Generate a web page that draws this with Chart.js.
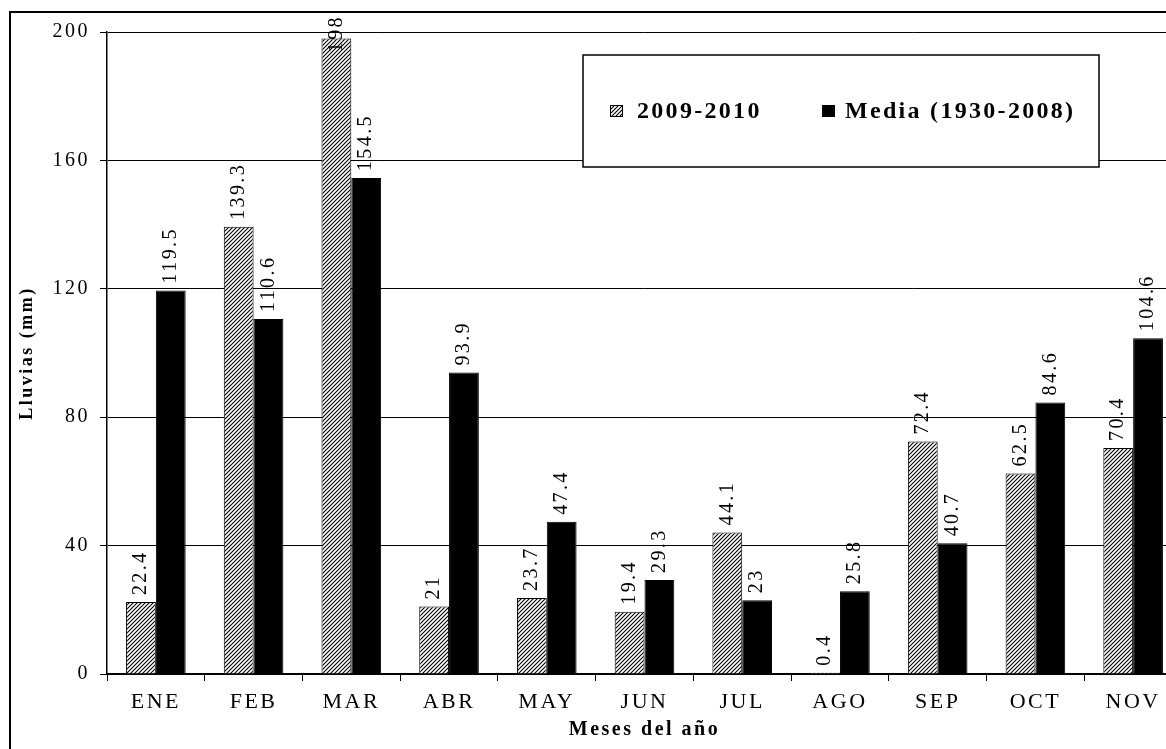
<!DOCTYPE html>
<html>
<head>
<meta charset="utf-8">
<script src="https://cdn.jsdelivr.net/npm/chart.js@4.4.0/dist/chart.umd.min.js"></script>
<style>
html, body { margin: 0; padding: 0; background: #fff; overflow: hidden; }
#marco { position: absolute; left: 9px; top: 11px; width: 1300px; height: 900px; border: 2px solid #000; box-sizing: border-box; }
#caja { position: absolute; left: 0; top: 0; width: 1200px; height: 749px; }
</style>
</head>
<body>
<div id="marco"></div>
<div id="caja"><canvas id="lluviasChart" width="1200" height="749"></canvas></div>
<script>
const meses = ['ENE', 'FEB', 'MAR', 'ABR', 'MAY', 'JUN', 'JUL', 'AGO', 'SEP', 'OCT', 'NOV'];
const lluvias2009 = [22.4, 139.3, 198, 21, 23.7, 19.4, 44.1, 0.4, 72.4, 62.5, 70.4];
const lluviasMedia = [119.5, 110.6, 154.5, 93.9, 47.4, 29.3, 23, 25.8, 40.7, 84.6, 104.6];
const ticksY = [0, 40, 80, 120, 160, 200];

Chart.defaults.font.family = '"Liberation Serif", "Times New Roman", serif';
Chart.defaults.color = '#000';

const ctx = document.getElementById('lluviasChart').getContext('2d');

// rayado diagonal para la serie 2009-2010
function rayado() {
    const t = document.createElement('canvas');
    t.width = 4; t.height = 4;
    const g = t.getContext('2d');
    g.fillStyle = '#fff';
    g.fillRect(0, 0, 4, 4);
    g.strokeStyle = '#000';
    g.lineWidth = 1.1;
    g.beginPath();
    g.moveTo(0, 4); g.lineTo(4, 0);
    g.moveTo(-1, 1); g.lineTo(1, -1);
    g.moveTo(3, 5); g.lineTo(5, 3);
    g.stroke();
    return ctx.createPattern(t, 'repeat');
}

const espaciado = {
    id: 'espaciado',
    beforeLayout(chart) { chart.ctx.letterSpacing = '2.5px'; },
    beforeDraw(chart) { chart.ctx.letterSpacing = '2.5px'; }
};

// valores encima de cada barra, girados
const etiquetas = {
    id: 'etiquetas',
    afterDatasetsDraw(chart) {
        const c = chart.ctx;
        c.save();
        c.font = '20px "Liberation Serif"';
        c.letterSpacing = '2.4px';
        c.fillStyle = '#000';
        c.textAlign = 'left';
        c.textBaseline = 'middle';
        chart.data.datasets.forEach((ds, i) => {
            chart.getDatasetMeta(i).data.forEach((bar, j) => {
                const txt = String(ds.data[j]);
                const w = c.measureText(txt).width;
                let y = bar.y - 7;
                if (y - w < 15) y = 15 + w;
                c.save();
                c.translate(bar.x, y);
                c.rotate(-Math.PI / 2);
                c.fillText(txt, 0, 0);
                c.restore();
            });
        });
        c.restore();
    }
};

const leyenda = {
    id: 'leyenda',
    afterDraw(chart) {
        const c = chart.ctx;
        const a = chart.chartArea;
        const x0 = a.left + 476, y0 = a.top + 23, w = 516, h = 112;
        const cy = y0 + h / 2;
        c.save();
        c.fillStyle = '#fff';
        c.fillRect(x0, y0, w, h);
        c.strokeStyle = '#000';
        c.lineWidth = 1.5;
        c.strokeRect(x0, y0, w, h);
        c.font = 'bold 24px "Liberation Serif"';
        c.letterSpacing = '2.3px';
        c.textAlign = 'left';
        c.textBaseline = 'middle';
        const pos = [[27, 54], [239, 262]];
        chart.data.datasets.forEach((ds, i) => {
            c.fillStyle = ds.backgroundColor;
            c.fillRect(x0 + pos[i][0], cy - 6, 13, 12);
            c.lineWidth = 1;
            c.strokeRect(x0 + pos[i][0] + 0.5, cy - 5.5, 12, 11);
            c.fillStyle = '#000';
            c.fillText(ds.label, x0 + pos[i][1], cy + 1);
        });
        c.restore();
    }
};

new Chart(ctx, {
    type: 'bar',
    data: {
        labels: meses,
        datasets: [{
            label: '2009-2010',
            data: lluvias2009,
            backgroundColor: rayado(),
            borderColor: '#000',
            borderWidth: 1,
            categoryPercentage: 0.61,
            barPercentage: 1
        }, {
            label: 'Media (1930-2008)',
            data: lluviasMedia,
            backgroundColor: '#000',
            borderColor: '#000',
            borderWidth: 1,
            categoryPercentage: 0.61,
            barPercentage: 1
        }]
    },
    options: {
        responsive: false,
        animation: false,
        devicePixelRatio: 1,
        layout: { padding: { top: 32, right: 18, left: 0, bottom: 0 } },
        plugins: {
            legend: { display: false },
            tooltip: { enabled: false }
        },
        scales: {
            x: {
                grid: { drawOnChartArea: false, color: '#000', tickLength: 7, offset: true },
                border: { color: '#000', width: 1.5 },
                ticks: { font: { size: 22 }, color: '#000', padding: 8, maxRotation: 0 },
                title: {
                    display: true, text: 'Meses del año', color: '#000',
                    font: { size: 20, weight: 'bold' }, padding: { top: 0, bottom: 7 }
                },
                afterFit(s) { s.height = 75; }
            },
            y: {
                min: 0,
                max: 200,
                afterBuildTicks(s) { s.ticks = ticksY.map(v => ({ value: v })); },
                grid: { color: '#000', lineWidth: 1, tickLength: 7 },
                border: { color: '#000', width: 1.5 },
                ticks: { font: { size: 20 }, color: '#000', padding: 10 },
                title: {
                    display: true, text: 'Lluvias (mm)', color: '#000',
                    font: { size: 18, weight: 'bold' }, padding: { top: 17, bottom: 0 }
                },
                afterFit(s) { s.width = 107; }
            }
        }
    },
    plugins: [espaciado, etiquetas, leyenda]
});
</script>
</body>
</html>
